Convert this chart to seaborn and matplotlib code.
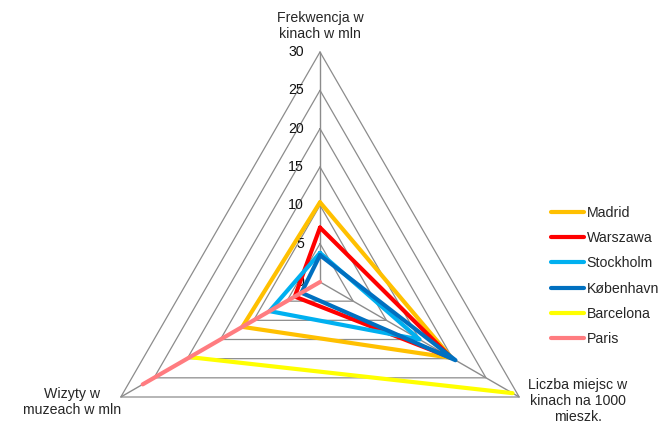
import numpy as np
import pandas as pd
import seaborn as sns
import matplotlib
matplotlib.use("Agg")
import matplotlib.pyplot as plt
from matplotlib.lines import Line2D
import matplotlib.transforms as mtransforms

# Radar axes (clockwise from the top) and their captions
axis_labels = ["Frekwencja w\nkinach w mln",
               "Liczba miejsc w\nkinach na 1000\nmieszk.",
               "Wizyty w\nmuzeach w mln"]
cities = ["Madrid", "Warszawa", "Stockholm", "København", "Barcelona", "Paris"]
frekwencja = [10.4, 7.1, 3.8, 3.5, np.nan, 0.0]
miejsca = [19.8, 19.8, 15.0, 20.4, 29.0, np.nan]
muzea = [11.7, 3.8, 7.6, 2.8, 19.6, 26.7]
colors = ["#FFC000", "#FF0000", "#00B0F0", "#0070C0", "#FFFF00", "#FF7C80"]
ticks = [0, 5, 10, 15, 20, 25, 30]

sns.set_theme(style="white")
plt.rcParams["font.family"] = ["Liberation Sans", "DejaVu Sans"]

W, H = 661, 425
fig = plt.figure(figsize=(W / 100, H / 100), dpi=100)
cx, cy, R = 320, 143, 230  # centre (from bottom) and radius in pixels
ax = fig.add_axes([(cx - R) / W, (cy - R) / H, 2 * R / W, 2 * R / H],
                  projection="polar")
ax.set_theta_zero_location("N")
ax.set_theta_direction(-1)
ax.set_ylim(0, ticks[-1])
ax.axis("off")

n = len(axis_labels)
theta = np.linspace(0, 2 * np.pi, n, endpoint=False)
theta_closed = np.append(theta, theta[0])

# triangular grid rings and spokes
grid_c = "#8C8C8C"
for t in ticks[1:]:
    ax.plot(theta_closed, [t] * (n + 1), color=grid_c, lw=0.9, zorder=1,
            clip_on=False)
for th in theta:
    ax.plot([th, th], [0, ticks[-1]], color=grid_c, lw=1.0, zorder=1,
            clip_on=False)

# value labels along the top spoke
off = mtransforms.ScaledTranslation(-16 / 100, 0, fig.dpi_scale_trans)
for t in ticks:
    ax.text(0, t, str(t), transform=ax.transData + off, ha="right",
            va="center", fontsize=10.2, color="#111111")

# series: contiguous runs only, so missing values leave gaps
rows = []
for i, city in enumerate(cities):
    vals = np.array([frekwencja[i], miejsca[i], muzea[i]], dtype=float)
    vals = np.append(vals, vals[0])
    run = 0
    for k in range(n + 1):
        if np.isnan(vals[k]):
            run += 1
            continue
        rows.append({"city": city, "run": run, "order": k,
                     "theta": theta_closed[k], "r": vals[k]})
df = pd.DataFrame(rows)

for i, city in enumerate(cities):
    sub = df[df["city"] == city]
    for run, seg in sub.groupby("run"):
        if len(seg) < 2:
            continue
        sns.lineplot(data=seg, x="theta", y="r", sort=False, estimator=None,
                     color=colors[i], lw=3.0, ax=ax, zorder=3 + i,
                     legend=False)
ax.set_xlabel("")
ax.set_ylabel("")

# axis captions
fig.text(320 / W, 1 - 26 / H, axis_labels[0], ha="center", va="center",
         fontsize=10.2, linespacing=1.15)
fig.text(578 / W, 1 - 401 / H, axis_labels[1], ha="center", va="center",
         fontsize=10.2, linespacing=1.15)
fig.text(72 / W, 1 - 402 / H, axis_labels[2], ha="center", va="center",
         fontsize=10.2, linespacing=1.15)

handles = [Line2D([0], [0], color=c, lw=3.0) for c in colors]
fig.legend(handles, cities, loc="center left",
           bbox_to_anchor=(545 / W, 1 - 276 / H), frameon=False,
           fontsize=10.2, handlelength=2.35, handletextpad=0.2,
           labelspacing=0.8, borderaxespad=0.0)

fig.savefig("out.png", dpi=100)
